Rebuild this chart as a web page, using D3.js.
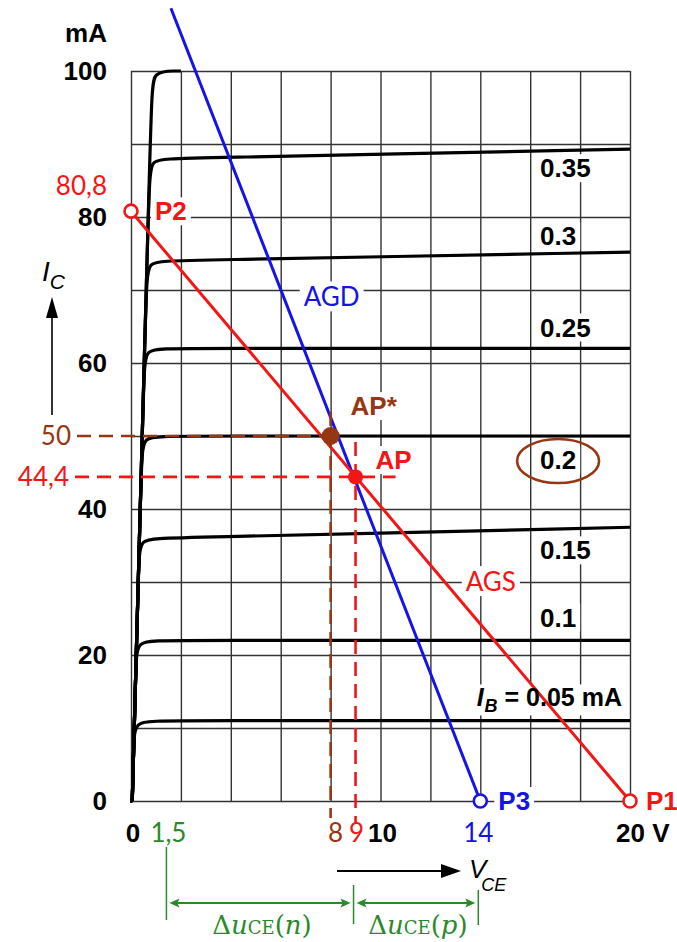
<!DOCTYPE html>
<html>
<head>
<meta charset="utf-8">
<script src="https://cdn.jsdelivr.net/npm/d3@7"></script>
<style>
    body { margin: 0; background: #fff; }
    .bold { font-family: "Liberation Sans", Arial, sans-serif; font-weight: bold; font-size: 26px; }
    .val { font-family: Lato, "Open Sans", sans-serif; font-size: 26px; }
</style>
</head>
<body>
<svg id="chart" width="677" height="942"></svg>
<script>
// output characteristics: I_B (mA), I_C at the knee and at the end of the curve (mA), end voltage (V)
const ibValues = [0.05, 0.1, 0.15, 0.2, 0.25, 0.3, 0.35, 0.4];
const icKnee = [11, 22, 36, 50, 62, 74, 88, 100];
const icEnd = [11, 22, 37.5, 50, 62, 75.2, 89.3, 100];
const vEnd = [20, 20, 20, 20, 20, 20, 20, 2];
const ibLabels = ["0.05 mA", "0.1", "0.15", "0.2", "0.25", "0.3", "0.35", ""];

// grid and tick labels
const xGrid = [0, 2, 4, 6, 8, 10, 12, 14, 16, 18, 20];
const yGrid = [0, 10, 20, 30, 40, 50, 60, 70, 80, 90, 100];
const xTicks = [0, 10, 20];
const yTicks = [0, 20, 40, 60, 80, 100];

// load lines and points
const agsLine = [[0, 80.8], [20, 0]];     // static load line P2 - P1
const agdLine = [[14, 0], [1.6, 108.6]];  // dynamic load line from P3
const p1 = [20, 0], p2 = [0, 80.8], p3 = [14, 0];
const ap = [9, 44.4];
const apStar = [8, 50];
const deltaU = [1.5, 9, 14];

const red = "#f21616", blue = "#1414e8", brown = "#963714", green = "#2a8a2a";

var svg = d3.select("#chart");
var x = d3.scaleLinear().domain([0, 20]).range([131, 630]);
var y = d3.scaleLinear().domain([0, 100]).range([801, 71]);

var gGrid = svg.append("g");
var gBg = svg.append("g");
var gCurves = svg.append("g");
var gLines = svg.append("g");
var gMarks = svg.append("g");
var gText = svg.append("g");

/* grid from axes */
gGrid.append("g")
    .attr("transform", "translate(0," + y(0) + ")")
    .call(d3.axisBottom(x).tickValues(xGrid).tickSize(-(y(0) - y(100))).tickFormat(""));
gGrid.append("g")
    .attr("transform", "translate(" + x(0) + ",0)")
    .call(d3.axisLeft(y).tickValues(yGrid).tickSize(-(x(20) - x(0))).tickFormat(""));
gGrid.selectAll(".domain").remove();
gGrid.selectAll(".tick line").attr("stroke", "#333").attr("stroke-width", 1.4);

/* characteristic curves */
var satV = function (ic) { return 0.05 + 0.008 * ic; };
var curveLine = d3.line()
    .x(function (d) { return x(d[0]); })
    .y(function (d) { return y(d[1]); })
    .curve(d3.curveBasis);

gCurves.selectAll("path.ib")
    .data(ibValues)
    .enter()
    .append("path")
    .attr("class", "ib")
    .attr("fill", "none")
    .attr("stroke", "#000")
    .attr("stroke-width", 3.2)
    .attr("d", function (d, i) {
        var k = icKnee[i], vk = satV(k);
        return curveLine([[satV(0), 0], [satV(0), 0], [satV(k - 3.5), k - 3.5], [vk, k],
            [vk + 1, k], [vEnd[i], icEnd[i]], [vEnd[i], icEnd[i]]]);
    });

/* load lines */
var straight = d3.line().x(function (d) { return x(d[0]); }).y(function (d) { return y(d[1]); });
gLines.append("path").attr("d", straight(agdLine))
    .attr("stroke", blue).attr("stroke-width", 3).attr("fill", "none");
gLines.append("path").attr("d", straight(agsLine))
    .attr("stroke", red).attr("stroke-width", 3).attr("fill", "none");

/* dashed guides */
function dashed(x1, y1, x2, y2, color) {
    gLines.append("line")
        .attr("x1", x1).attr("y1", y1).attr("x2", x2).attr("y2", y2)
        .attr("stroke", color).attr("stroke-width", 2.6)
        .attr("stroke-dasharray", "14,8");
}
dashed(77, y(apStar[1]), x(apStar[0]), y(apStar[1]), brown);
dashed(x(apStar[0]), y(apStar[1]) - 24, x(apStar[0]), 818, brown);
dashed(75, y(ap[1]), x(ap[0]) + 40, y(ap[1]), red);
dashed(x(ap[0]), y(ap[1]) - 35, x(ap[0]), 824, red);

/* points */
gMarks.append("circle").attr("cx", x(apStar[0])).attr("cy", y(apStar[1])).attr("r", 9).attr("fill", brown);
gMarks.append("circle").attr("cx", x(ap[0])).attr("cy", y(ap[1])).attr("r", 7.5).attr("fill", red);
[[p1, red], [p2, red], [p3, blue]].forEach(function (p) {
    gMarks.append("circle")
        .attr("cx", x(p[0][0])).attr("cy", y(p[0][1])).attr("r", 6.5)
        .attr("fill", "#fff").attr("stroke", p[1]).attr("stroke-width", 2.6);
});

/* texts */
function label(tx, ty, txt, cls, color, anchor) {
    return gText.append("text")
        .attr("class", cls)
        .attr("x", tx).attr("y", ty)
        .attr("dy", "0.35em")
        .attr("fill", color || "#000")
        .attr("text-anchor", anchor || "start")
        .text(txt);
}
var masked = [];

// y axis
label(107, 33, "mA", "bold", "#000", "end");
yTicks.forEach(function (t) {
    label(107, y(t), t, "bold", "#000", "end");
});
label(107, y(p2[1]) - 25, "80,8", "val", red, "end");
label(71, y(apStar[1]), "50", "val", brown, "end");
label(69, y(ap[1]), "44,4", "val", red, "end");

// x axis
label(x(0) + 2, 833, "0", "bold", "#000", "middle");
label(x(10) + 2, 833, "10", "bold", "#000", "middle");
label(x(20) - 14, 833, "20 V", "bold", "#000", "start");
label(x(deltaU[0]), 833, "1,5", "val", green, "middle");
label(x(apStar[0]) + 5, 833, "8", "val", brown, "middle");
label(x(ap[0]) + 1, 833, "9", "val", red, "middle");
label(x(p3[0]) - 2, 833, "14", "val", blue, "middle");

// point labels
masked.push(label(x(p2[0]) + 24, y(p2[1]), "P2", "bold", red));
masked.push(label(x(p1[0]) + 16, y(p1[1]), "P1", "bold", red));
masked.push(label(x(p3[0]) + 18, y(p3[1]), "P3", "bold", blue));
masked.push(label(x(apStar[0]) + 20, y(apStar[1]) - 30, "AP*", "bold", brown));
masked.push(label(x(ap[0]) + 20, y(ap[1]) - 17, "AP", "bold", red));

// load line names
var agdV = function (ic) { return agdLine[0][0] + (agdLine[1][0] - agdLine[0][0]) * ic / agdLine[1][1]; };
var agsV = function (ic) { return agsLine[1][0] * (1 - ic / agsLine[0][1]); };
masked.push(label(x(agdV(69)) + 20, y(69), "AGD", "val", blue));
masked.push(label(x(agsV(30)) + 21, y(30), "AGS", "val", red));

// base current labels
var labelDy = [-23, -23, 23, 24, -21, -16, 19];
ibLabels.forEach(function (t, i) {
    if (!t) return;
    var ly = y(icEnd[i]) + labelDy[i];
    var el;
    if (i === 0) {
        el = gText.append("text").attr("class", "bold").attr("x", x(20) - 8).attr("y", ly)
            .attr("dy", "0.35em").attr("text-anchor", "end").style("font-size", "25px");
        el.append("tspan").style("font-style", "italic").text("I");
        el.append("tspan").style("font-style", "italic").style("font-size", "18px")
            .attr("dy", 6).attr("dx", 1).text("B");
        el.append("tspan").attr("dy", -6).text(" = " + t);
    } else {
        el = label(x(20) - 90, ly, t, "bold", "#000");
    }
    masked.push(el);
    if (ibValues[i] === 0.2) {
        var b = el.node().getBBox();
        gMarks.append("ellipse")
            .attr("cx", b.x + b.width / 2).attr("cy", ly + 1)
            .attr("rx", 41).attr("ry", 22)
            .attr("fill", "none").attr("stroke", brown).attr("stroke-width", 2.6);
    }
});

// white boxes behind labels hide the grid
masked.forEach(function (t) {
    var b = t.node().getBBox();
    gBg.append("rect")
        .attr("x", b.x - 4).attr("y", b.y + 1)
        .attr("width", b.width + 8).attr("height", b.height - 2)
        .attr("fill", "#fff");
});

/* axis names with arrows */
var ic = gText.append("text").attr("x", 42).attr("y", 281)
    .style("font-family", "Liberation Sans, Arial, sans-serif").style("font-style", "italic").style("font-size", "28px");
ic.append("tspan").text("I");
ic.append("tspan").attr("dy", 8).attr("dx", 0).style("font-size", "21px").text("C");
gText.append("line").attr("x1", 52).attr("y1", 415).attr("x2", 52).attr("y2", 312)
    .attr("stroke", "#000").attr("stroke-width", 1.6);
gText.append("path").attr("d", "M52,297 L46,318 L58,318 Z").attr("fill", "#000");

var vce = gText.append("text").attr("x", 469).attr("y", 878)
    .style("font-family", "Liberation Sans, Arial, sans-serif").style("font-style", "italic").style("font-size", "26px");
vce.append("tspan").text("V");
vce.append("tspan").attr("dy", 13).attr("dx", -5).style("font-size", "18px").text("CE");
gText.append("line").attr("x1", 337).attr("y1", 871).attr("x2", 446).attr("y2", 871)
    .attr("stroke", "#000").attr("stroke-width", 1.8);
gText.append("path").attr("d", "M461,871 L441,864 L441,878 Z").attr("fill", "#000");

/* green dimension arrows */
var tickTop = [847, 885, 890], tickBottom = [920, 924, 925];
deltaU.forEach(function (v, i) {
    gText.append("line").attr("x1", x(v) - 2).attr("x2", x(v) - 2)
        .attr("y1", tickTop[i]).attr("y2", tickBottom[i])
        .attr("stroke", green).attr("stroke-width", 1.5);
});
var ay = 903;
[[deltaU[0], deltaU[1]], [deltaU[1], deltaU[2]]].forEach(function (seg) {
    var a = x(seg[0]) + 1, b = x(seg[1]) - 5;
    gText.append("line").attr("x1", a + 4).attr("x2", b - 4).attr("y1", ay).attr("y2", ay)
        .attr("stroke", green).attr("stroke-width", 1.8);
    gText.append("path").attr("d", "M" + a + "," + ay + " l10,-4.5 l-2,4.5 l2,4.5 Z").attr("fill", green);
    gText.append("path").attr("d", "M" + b + "," + ay + " l-10,-4.5 l2,4.5 l-2,4.5 Z").attr("fill", green);
});
["n", "p"].forEach(function (s, i) {
    var t = gText.append("text")
        .attr("x", x((deltaU[i] + deltaU[i + 1]) / 2)).attr("y", 934)
        .attr("text-anchor", "middle").attr("fill", green)
        .style("font-family", "DejaVu Serif, serif").style("font-size", "26px");
    t.append("tspan").text("\u0394");
    t.append("tspan").style("font-style", "italic").text("u");
    t.append("tspan").style("font-size", "18px").text("CE");
    t.append("tspan").text("(");
    t.append("tspan").style("font-style", "italic").text(s);
    t.append("tspan").text(")");
});
</script>
</body>
</html>
